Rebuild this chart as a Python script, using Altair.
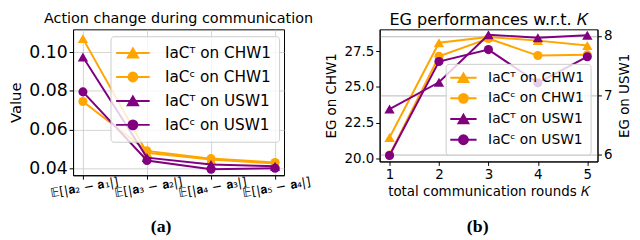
import json
import altair as alt
import pandas as pd

# ---------------- data ----------------
SERIES = ["IaCᵀ on CHW1", "IaCᶜ on CHW1", "IaCᵀ on USW1", "IaCᶜ on USW1"]
COLORS = ["#FFA500", "#FFA500", "#800080", "#800080"]
MARKERS = ["triangle-up", "circle", "triangle-up", "circle"]

A_LABELS = ["𝔼[|𝐚₂ − 𝐚₁|]", "𝔼[|𝐚₃ − 𝐚₂|]", "𝔼[|𝐚₄ − 𝐚₃|]", "𝔼[|𝐚₅ − 𝐚₄|]"]
A_X = [1, 2, 3, 4]
A_T_CHW1 = [0.107, 0.048, 0.0445, 0.0425]
A_C_CHW1 = [0.0745, 0.049, 0.045, 0.043]
A_T_USW1 = [0.0975, 0.0455, 0.042, 0.041]
A_C_USW1 = [0.0795, 0.044, 0.0395, 0.040]

B_K = [1, 2, 3, 4, 5]
B_T_CHW1 = [21.45, 28.1, 28.5, 28.25, 27.9]
B_C_CHW1 = [20.22, 27.15, 28.4, 27.2, 27.25]
B_T_USW1 = [6.77, 7.22, 8.02, 7.97, 8.01]
B_C_USW1 = [5.99, 7.57, 7.77, 7.21, 7.65]

FONT = "DejaVu Sans"


def long_df(xs, cols):
    rows = []
    for name, vals in zip(SERIES, cols):
        for x, v in zip(xs, vals):
            rows.append({"x": x, "v": v, "series": name})
    return pd.DataFrame(rows)


dfa = long_df(A_X, [A_T_CHW1, A_C_CHW1, A_T_USW1, A_C_USW1])
dfb = long_df(B_K, [B_T_CHW1, B_C_CHW1, B_T_USW1, B_C_USW1])


def legend_paths(S, half_len, tri_half, circ_r):
    """Legend glyph: line of half_len px with a marker, in units where 1 = S/2 px."""
    u = S / 2.0
    L = half_len / u
    rt = tri_half / u
    h = 0.866 * rt
    c = circ_r / u
    tri = f"M{-L:.3f},0L{L:.3f},0M0,{-h:.3f}L{rt:.3f},{h:.3f}L{-rt:.3f},{h:.3f}Z"
    cs = f"{c:.3f}"
    circ = f"M{-L:.3f},0L{L:.3f},0M{cs},0A{cs},{cs},0,1,1,-{cs},0A{cs},{cs},0,1,1,{cs},0Z"
    return [tri, circ, tri, circ]


def series_layers(df, idx, x, y):
    name, color, marker = SERIES[idx], COLORS[idx], MARKERS[idx]
    base = alt.Chart(df).transform_filter(alt.datum.series == name)
    line = base.mark_line(color=color, strokeWidth=2).encode(x=x, y=y)
    size = 110 if marker == "triangle-up" else 85
    pts = base.mark_point(shape=marker, filled=True, color=color, size=size,
                          opacity=1, strokeWidth=1).encode(x=x, y=y)
    return [line, pts]


def legend_layer(df, paths, lkw):
    leg = alt.Legend(**lkw)
    return alt.Chart(df).transform_filter("false").mark_point(
        filled=True, opacity=1
    ).encode(
        fill=alt.Fill("series:N", scale=alt.Scale(domain=SERIES, range=COLORS), legend=leg),
        stroke=alt.Stroke("series:N", scale=alt.Scale(domain=SERIES, range=COLORS), legend=leg),
        shape=alt.Shape("series:N", scale=alt.Scale(domain=SERIES, range=paths), legend=leg),
    )


# ---------------- panel (a) ----------------
ax_common = dict(domainColor="black", tickColor="black", labelColor="black",
                 titleColor="black", labelFont=FONT, titleFont=FONT, tickSize=4)

xa = alt.X("x:Q", scale=alt.Scale(domain=[0.846, 4.14], nice=False, zero=False),
           axis=alt.Axis(values=A_X, labelExpr=f"{json.dumps(A_LABELS, ensure_ascii=False)}[datum.value - 1]",
                         labelAngle=350, labelAlign="center", labelBaseline="top",
                         labelFontSize=12.5, labelPadding=2, labelOverlap=False, labelBound=False,
                         title=None, grid=True, gridColor="#c8c8c8", gridWidth=0.8, **ax_common))
ya = alt.Y("v:Q", scale=alt.Scale(domain=[0.0364, 0.1118], nice=False, zero=False),
           axis=alt.Axis(values=[0.04, 0.06, 0.08, 0.10], format=".2f", title="Value",
                         labelFontSize=17.5, titleFontSize=15, titleFontWeight="normal",
                         titlePadding=5, grid=True, gridColor="#c8c8c8", gridWidth=0.8,
                         **ax_common))

layers_a = []
for i in range(4):
    layers_a += series_layers(dfa, i, xa, ya)
SA = 16
leg_a = dict(title=None, orient="none", legendX=38, legendY=7,
             labelFont=FONT, labelFontSize=15.5, labelColor="black",
             symbolSize=SA * SA, symbolStrokeWidth=2, symbolOffset=5.7, labelOffset=23.5,
             rowPadding=6.3, padding=8, fillColor="rgba(255,255,255,0.8)",
             strokeColor="#cccccc", cornerRadius=3)
layers_a.append(legend_layer(dfa, legend_paths(SA, 17, 5.2, 4.5), leg_a))

panel_a = alt.layer(*layers_a).properties(
    width=214, height=148,
    title=alt.TitleParams("Action change during communication", font=FONT,
                          fontSize=14.6, fontWeight="normal", color="black", offset=4),
)

# ---------------- panel (b) ----------------
xb = alt.X("x:Q", scale=alt.Scale(domain=[0.8, 5.206], nice=False, zero=False),
           axis=alt.Axis(values=B_K, format="d", title="total communication rounds 𝐾",
                         labelFontSize=13.6, titleFontSize=13.6, titleFontWeight="normal",
                         titlePadding=4, grid=False, **ax_common))
yb_left = alt.Y("v:Q", scale=alt.Scale(domain=[19.77, 29.04], nice=False, zero=False),
                axis=alt.Axis(values=[20.0, 22.5, 25.0, 27.5], format=".1f", title="EG on CHW1",
                              labelFontSize=13.6, titleFontSize=13.6, titleFontWeight="normal",
                              titlePadding=6, grid=False, orient="left", **ax_common))
yb_right = alt.Y("v:Q", scale=alt.Scale(domain=[5.89, 8.11], nice=False, zero=False),
                 axis=alt.Axis(values=[6, 7, 8], format="d", title="EG on USW1",
                               labelFontSize=13.6, titleFontSize=13.6, titleFontWeight="normal",
                               titlePadding=6, titleAngle=270, titleBaseline="top",
                               grid=True, gridColor="#b8b8b8",
                               gridWidth=1, orient="right", **ax_common))

left_layers = series_layers(dfb, 0, xb, yb_left) + series_layers(dfb, 1, xb, yb_left)
right_layers = series_layers(dfb, 2, xb, yb_right) + series_layers(dfb, 3, xb, yb_right)
SB = 14
leg_b = dict(title=None, orient="none", legendX=67, legendY=35,
             labelFont=FONT, labelFontSize=14, labelColor="black",
             symbolSize=SB * SB, symbolStrokeWidth=2, symbolOffset=4, labelOffset=17,
             rowPadding=3, padding=6, fillColor="rgba(255,255,255,0.8)",
             strokeColor="#cccccc", cornerRadius=3)

panel_b = alt.layer(
    alt.layer(*left_layers),
    alt.layer(*right_layers),
    legend_layer(dfb, legend_paths(SB, 13.35, 5.0, 4.5), leg_b),
).resolve_scale(y="independent").properties(
    width=221, height=134,
    title=alt.TitleParams("EG performances w.r.t. 𝐾", font=FONT,
                          fontSize=16.3, fontWeight="normal", color="black", offset=1),
)

lab_font = dict(font="Liberation Serif", fontSize=18, fontWeight="bold", color="black",
                orient="bottom", anchor="middle")
wrap_a = alt.VConcatChart(vconcat=[panel_a], title=alt.TitleParams("(a)", offset=19, **lab_font))
wrap_b = alt.VConcatChart(vconcat=[panel_b], title=alt.TitleParams("(b)", offset=20, **lab_font))

chart = alt.HConcatChart(hconcat=[wrap_a, wrap_b], spacing=9).resolve_scale(
    fill="independent", stroke="independent", shape="independent"
).resolve_legend(
    fill="independent", stroke="independent", shape="independent"
).properties(
    padding=0, background="white"
).configure_view(stroke="black", strokeWidth=1)

chart.save("out.html", embed_options={"renderer": "svg", "actions": False})
